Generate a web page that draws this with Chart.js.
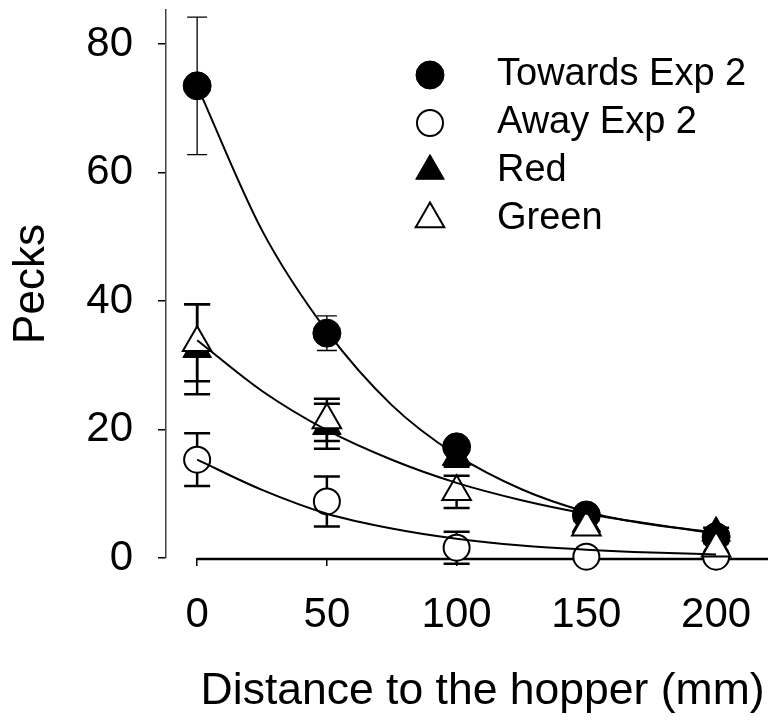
<!DOCTYPE html>
<html>
<head>
<meta charset="utf-8">
<script src="https://cdn.jsdelivr.net/npm/chart.js@4.4.0/dist/chart.umd.min.js"></script>
<style>
  html, body { margin: 0; padding: 0; background: #fff; }
  #wrap { width: 775px; height: 721px; }
</style>
</head>
<body>
<div id="wrap"><canvas id="chart-pecks"></canvas></div>
<script>
// Distance to the hopper (mm)
const distances = [0, 50, 100, 150, 200];

// mean pecks and error bars
const towards = [73.5, 35.0, 17.3, 6.7, 3.3];
const towardsErr = [10.7, 2.7, 1.2, 0.8, 0.5];
const away = [15.3, 8.8, 1.6, 0.2, 0.2];
const awayErr = [4.1, 3.9, 2.5, 0.3, 0.3];
const red = [32.5, 20.5, 15.7, 5.3, 3.9];
const redErr = [7.0, 3.5, 1.5, 1.0, 0.8];
const green = [33.5, 21.5, 10.3, 4.8, 1.5];
const greenErr = [6.0, 3.3, 2.5, 1.0, 0.8];

// fitted curves, every 25 mm
const curveX = [0, 25, 50, 75, 100, 125, 150, 175, 200];
const towardsFit = [73.5, 51.0, 35.3, 23.8, 16.0, 10.7, 7.2, 5.2, 4.0];
const redGreenFit = [33.9, 26.0, 19.9, 15.3, 11.7, 9.0, 6.9, 5.3, 3.8];
const awayFit = [15.3, 10.6, 6.9, 4.6, 3.0, 1.95, 1.3, 0.85, 0.56];

const xTicks = [0, 50, 100, 150, 200];
const yTicks = [0, 20, 40, 60, 80];

const FONT = "'Liberation Sans', Arial, sans-serif";
Chart.defaults.font.family = FONT;
Chart.defaults.color = "#000";

const pts = (xs, ys) => xs.map((x, i) => ({ x: x, y: ys[i] }));

function drawMarker(ctx, style, r, x, y, fill, stroke, lw) {
  ctx.beginPath();
  if (style === "triangle") {
    ctx.moveTo(x, y - r);
    ctx.lineTo(x + r * 0.866, y + r / 2);
    ctx.lineTo(x - r * 0.866, y + r / 2);
    ctx.closePath();
  } else {
    ctx.arc(x, y, r, 0, Math.PI * 2);
  }
  ctx.fillStyle = fill;
  ctx.fill();
  ctx.lineWidth = lw;
  ctx.strokeStyle = stroke;
  ctx.stroke();
}

// error bars go under the markers
const errorBars = {
  id: "errorBars",
  beforeDatasetsDraw(chart) {
    const { ctx, scales: { x, y } } = chart;
    chart.data.datasets.forEach((ds) => {
      if (!ds.errors) return;
      ctx.save();
      ctx.strokeStyle = "#000";
      ctx.lineWidth = ds.errWidth;
      ds.data.forEach((p, i) => {
        const px = x.getPixelForValue(p.x);
        const top = y.getPixelForValue(p.y + ds.errors[i]);
        const bot = y.getPixelForValue(p.y - ds.errors[i]);
        ctx.beginPath();
        ctx.moveTo(px, top);
        ctx.lineTo(px, bot);
        ctx.moveTo(px - ds.errCap, top);
        ctx.lineTo(px + ds.errCap, top);
        ctx.moveTo(px - ds.errCap, bot);
        ctx.lineTo(px + ds.errCap, bot);
        ctx.stroke();
      });
      ctx.restore();
    });
  },
};

// offset x axis line (starts at 0, not at the y axis), x title and the legend
const decorations = {
  id: "decorations",
  beforeDatasetsDraw(chart) {
    const { ctx, chartArea, scales: { x } } = chart;
    ctx.save();
    ctx.strokeStyle = "#000";
    ctx.lineWidth = 2.5;
    ctx.beginPath();
    ctx.moveTo(x.getPixelForValue(0), chartArea.bottom + 1);
    ctx.lineTo(chartArea.right, chartArea.bottom + 1);
    ctx.stroke();
    ctx.restore();
  },
  afterDraw(chart) {
    const { ctx, chartArea, scales: { x } } = chart;
    ctx.save();
    ctx.fillStyle = "#000";
    ctx.font = "44.5px " + FONT;
    ctx.textAlign = "center";
    ctx.textBaseline = "middle";
    ctx.fillText("Distance to the hopper (mm)", (x.getPixelForValue(0) + chartArea.right) / 2, chartArea.bottom + 134);

    // legend
    const lx = chartArea.left + 264;
    const ly = chartArea.top + 65;
    ctx.font = "38px " + FONT;
    ctx.textAlign = "left";
    chart.data.datasets.forEach((ds) => {
      if (ds.legendRow === undefined) return;
      const yy = ly + ds.legendRow * 48;
      drawMarker(ctx, ds.pointStyle, ds.pointRadius, lx, yy, ds.pointBackgroundColor, ds.pointBorderColor, ds.pointBorderWidth);
      ctx.fillStyle = "#000";
      ctx.fillText(ds.label, lx + 67, yy);
    });
    ctx.restore();
  },
};

new Chart(document.getElementById("chart-pecks"), {
  type: "scatter",
  data: {
    datasets: [
      {
        label: "fit towards",
        data: pts(curveX, towardsFit),
        showLine: true,
        pointRadius: 0,
        borderColor: "#000",
        borderWidth: 2,
        cubicInterpolationMode: "monotone",
        order: 0,
      },
      {
        label: "fit red green",
        data: pts(curveX, redGreenFit),
        showLine: true,
        pointRadius: 0,
        borderColor: "#000",
        borderWidth: 2,
        cubicInterpolationMode: "monotone",
        order: 0,
      },
      {
        label: "fit away",
        data: pts(curveX, awayFit),
        showLine: true,
        pointRadius: 0,
        borderColor: "#000",
        borderWidth: 2,
        cubicInterpolationMode: "monotone",
        order: 0,
      },
      {
        label: "Towards Exp 2",
        data: pts(distances, towards),
        errors: towardsErr,
        errCap: 10,
        errWidth: 1.3,
        legendRow: 0,
        pointStyle: "circle",
        pointRadius: 14,
        pointBackgroundColor: "#000",
        pointBorderColor: "#000",
        pointBorderWidth: 1,
        clip: false,
        order: 4,
      },
      {
        label: "Away Exp 2",
        data: pts(distances, away),
        errors: awayErr,
        errCap: 13,
        errWidth: 2.5,
        legendRow: 1,
        pointStyle: "circle",
        pointRadius: 13,
        pointBackgroundColor: "#fff",
        pointBorderColor: "#000",
        pointBorderWidth: 2,
        clip: false,
        order: 3,
      },
      {
        label: "Red",
        data: pts(distances, red),
        errors: redErr,
        errCap: 13,
        errWidth: 2.5,
        legendRow: 2,
        pointStyle: "triangle",
        pointRadius: 16.5,
        pointBackgroundColor: "#000",
        pointBorderColor: "#000",
        pointBorderWidth: 1,
        clip: false,
        order: 2,
      },
      {
        label: "Green",
        data: pts(distances, green),
        errors: greenErr,
        errCap: 13,
        errWidth: 2.5,
        legendRow: 3,
        pointStyle: "triangle",
        pointRadius: 16.5,
        pointBackgroundColor: "#fff",
        pointBorderColor: "#000",
        pointBorderWidth: 2,
        clip: false,
        order: 1,
      },
    ],
  },
  options: {
    responsive: true,
    maintainAspectRatio: false,
    animation: false,
    events: [],
    layout: { autoPadding: false, padding: { left: 0, top: 10, right: 7, bottom: 0 } },
    plugins: { legend: { display: false }, tooltip: { enabled: false } },
    scales: {
      x: {
        type: "linear",
        min: -12,
        max: 220,
        afterBuildTicks: (a) => { a.ticks = xTicks.map((v) => ({ value: v })); },
        afterFit: (a) => { a.height = 163; a.paddingLeft = 0; a.paddingRight = 0; },
        border: { display: false },
        grid: { drawOnChartArea: false, drawTicks: true, tickLength: 8, color: "#000", lineWidth: 1.5 },
        ticks: { font: { size: 42 }, color: "#000", padding: 24, maxRotation: 0, autoSkip: false },
      },
      y: {
        type: "linear",
        min: 0,
        max: 85.3,
        afterBuildTicks: (a) => { a.ticks = yTicks.map((v) => ({ value: v })); },
        afterFit: (a) => { a.width = 166; a.paddingTop = 0; a.paddingBottom = 0; },
        border: { display: true, color: "#444", width: 1.5 },
        grid: { drawOnChartArea: false, drawTicks: true, tickLength: 8, color: "#000", lineWidth: 1.5 },
        ticks: { font: { size: 42 }, color: "#000", padding: 25 },
        title: { display: true, text: "Pecks", font: { size: 44 }, color: "#000", padding: { top: 5, bottom: 0 } },
      },
    },
  },
  plugins: [errorBars, decorations],
});
</script>
</body>
</html>
